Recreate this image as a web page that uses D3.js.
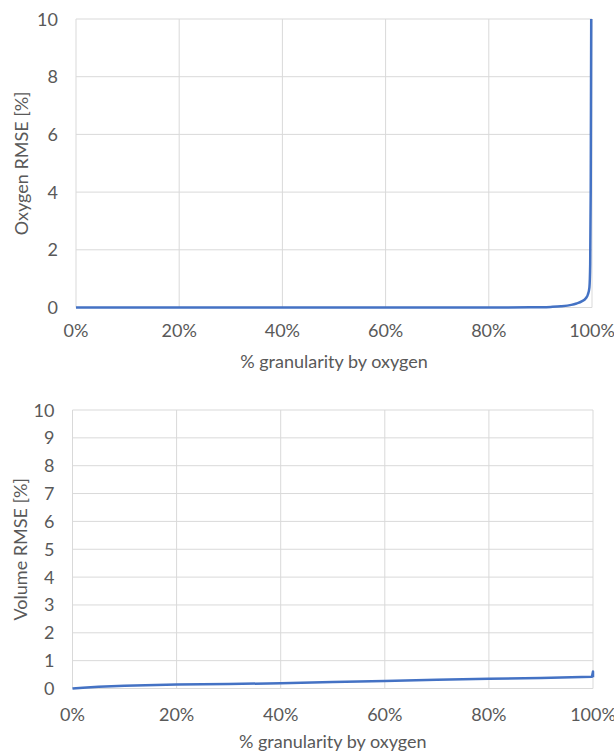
<!DOCTYPE html>
<html>
<head>
<meta charset="utf-8">
<script src="https://cdn.jsdelivr.net/npm/d3@7"></script>
<style>
body { margin: 0; background: #fff; }
svg text { font-family: Lato, "Open Sans", sans-serif; fill: #595959; font-size: 18px; }
.grid line { stroke: #d9d9d9; stroke-width: 1; }
</style>
</head>
<body>
<script>
// top chart: oxygen RMSE vs granularity
var oxyX = [0, 10, 20, 30, 40, 50, 60, 70, 80, 88, 92, 94, 96, 97, 98, 98.8, 99.2, 99.5, 99.65, 99.75, 99.8, 99.85];
var oxyY = [0, 0, 0, 0, 0, 0, 0, 0, 0, 0.005, 0.02, 0.04, 0.09, 0.14, 0.21, 0.32, 0.45, 0.7, 1.5, 4, 7, 10];
// bottom chart: volume RMSE vs granularity
var volX = [0, 2, 5, 10, 20, 30, 40, 50, 60, 70, 80, 90, 99.8, 100, 100];
var volY = [0, 0.03, 0.06, 0.1, 0.14, 0.16, 0.19, 0.23, 0.27, 0.31, 0.35, 0.38, 0.42, 0.61, 0.40];
var xTicks = [0, 20, 40, 60, 80, 100];
var oxyTicks = [0, 2, 4, 6, 8, 10];
var volTicks = [0, 1, 2, 3, 4, 5, 6, 7, 8, 9, 10];

var width = 614, height = 751;
var svg = d3.select("body").append("svg").attr("width", width).attr("height", height);

function drawChart(cfg) {
	var x = d3.scaleLinear().domain([0, 100]).range([cfg.left, cfg.right]);
	var y = d3.scaleLinear().domain([0, 10]).range([cfg.bottom, cfg.top]);
	var g = svg.append("g");

	g.append("g").attr("class", "grid")
		.selectAll("line").data(cfg.yTicks).enter().append("line")
		.attr("x1", cfg.left).attr("x2", cfg.right)
		.attr("y1", function(d){ return y(d); }).attr("y2", function(d){ return y(d); });
	g.append("g").attr("class", "grid")
		.selectAll("line").data(xTicks).enter().append("line")
		.attr("x1", function(d){ return x(d); }).attr("x2", function(d){ return x(d); })
		.attr("y1", cfg.top).attr("y2", cfg.bottom);

	g.selectAll(".ylab").data(cfg.yTicks).enter().append("text")
		.attr("x", cfg.left - 18).attr("y", function(d){ return y(d) + 6.5; })
		.attr("text-anchor", "end")
		.text(function(d){ return d; });
	g.selectAll(".xlab").data(xTicks).enter().append("text")
		.attr("x", function(d){ return x(d); }).attr("y", cfg.xLabY)
		.attr("text-anchor", "middle")
		.text(function(d){ return d + "%"; });

	g.append("text").attr("x", (cfg.left + cfg.right) / 2).attr("y", cfg.titleY)
		.attr("text-anchor", "middle")
		.text("% granularity by oxygen");
	g.append("text")
		.attr("transform", "translate(" + cfg.yTitleX + "," + ((cfg.top + cfg.bottom) / 2) + ") rotate(-90)")
		.attr("text-anchor", "middle")
		.text(cfg.yTitle);

	var pts = d3.zip(cfg.xs, cfg.ys);
	var line = d3.line().x(function(d){ return x(d[0]); }).y(function(d){ return y(d[1]); })
		.curve(cfg.linear ? d3.curveLinear : d3.curveMonotoneX);
	g.append("path").datum(pts).attr("d", line)
		.attr("fill", "none").attr("stroke", "#4472c4").attr("stroke-width", 2.5)
		.attr("stroke-linejoin", "round");
}

drawChart({ left: 76, right: 592, top: 19, bottom: 307.5, yTicks: oxyTicks, xs: oxyX, ys: oxyY,
	yTitle: "Oxygen RMSE [%]", xLabY: 337, titleY: 368, yTitleX: 28 });
drawChart({ left: 72.5, right: 593, top: 410, bottom: 688.5, yTicks: volTicks, xs: volX, ys: volY,
	yTitle: "Volume RMSE [%]", xLabY: 721, titleY: 748, yTitleX: 27, linear: true });
</script>
</body>
</html>
